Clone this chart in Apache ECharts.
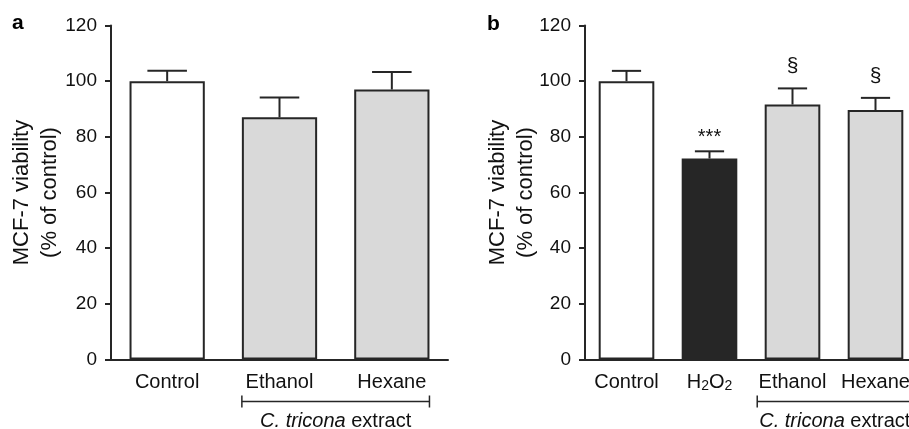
<!DOCTYPE html>
<html><head><meta charset="utf-8">
<script src="https://cdn.jsdelivr.net/npm/echarts@6/dist/echarts.min.js"></script>
<style>html,body{margin:0;padding:0;background:#fff;overflow:hidden}#c{width:918px;height:429px}</style>
</head><body><div id="c"></div>
<script>
// ---- data ----
const catsA = ['Control', 'Ethanol', 'Hexane'];
const meanA = [100, 87, 97];
const errA = [3.7, 7.1, 6.3];
const catsB = ['Control', 'H2O2', 'Ethanol', 'Hexane'];
const meanB = [100, 72.2, 91.6, 89.6];
const errB = [3.7, 2.6, 5.8, 4.4];
const marksB = ['', '***', '§', '§'];
const yTicks = [0, 20, 40, 60, 80, 100, 120];
const extractGroup = ['Ethanol', 'Hexane'];
const yTitle = 'MCF-7 viability\n(% of control)';
const groupTitle = ['C. tricona', ' extract'];

// ---- styles ----
const FONT = "'Liberation Sans', Arial, sans-serif";
const INK = '#262626';
const TXT = '#111';
const fillOf = { 'Control': '#ffffff', 'H2O2': '#262626', 'Ethanol': '#d9d9d9', 'Hexane': '#d9d9d9' };

const chart = echarts.init(document.getElementById('c'), null, { renderer: 'canvas' });

function xAxis(gi, cats) {
  return {
    type: 'category', gridIndex: gi, data: cats,
    axisLine: { lineStyle: { color: INK, width: 2 } },
    axisTick: { alignWithLabel: true, length: 7, lineStyle: { color: INK, width: 2 } },
    axisLabel: {
      interval: 0, margin: 13, color: TXT, fontFamily: FONT, fontSize: 20,
      formatter: v => v === 'H2O2' ? '{n|H}{s|2}{n|O}{s|2}' : '{n|' + v + '}',
      rich: {
        n: { fontFamily: FONT, fontSize: 20, lineHeight: 20, color: TXT },
        s: { fontFamily: FONT, fontSize: 14, lineHeight: 12, padding: [8, 0, 0, 0], color: TXT }
      }
    }
  };
}
function yAxis(gi, gap) {
  return {
    type: 'value', gridIndex: gi,
    min: yTicks[0], max: yTicks[yTicks.length - 1], interval: yTicks[1] - yTicks[0],
    name: yTitle, nameLocation: 'middle', nameGap: gap, nameMoveOverlap: false,
    nameTextStyle: { fontFamily: FONT, fontSize: 22, lineHeight: 28, color: TXT },
    axisLine: { show: true, lineStyle: { color: INK, width: 2 } },
    axisTick: { show: true, length: 6, lineStyle: { color: INK, width: 2 } },
    axisLabel: { margin: 14, color: TXT, fontFamily: FONT, fontSize: 19 },
    splitLine: { show: false }
  };
}
function barSeries(i, cats, means) {
  return {
    type: 'bar', xAxisIndex: i, yAxisIndex: i, barCategoryGap: '33%',
    data: means.map((m, k) => ({ value: m, itemStyle: { color: fillOf[cats[k]] } })),
    itemStyle: { borderColor: INK, borderWidth: 2 },
    silent: true, animation: false
  };
}
function errSeries(i, means, errs) {
  return {
    type: 'custom', xAxisIndex: i, yAxisIndex: i, clip: false, animation: false, silent: true, z: 3,
    data: means.map((m, k) => [k, m, errs[k]]),
    renderItem: (params, api) => {
      const k = api.value(0), m = api.value(1), e = api.value(2);
      const b = api.coord([k, m]), t = api.coord([k, m + e]);
      const half = api.size([1, 0])[0] * 0.176;
      const st = { stroke: INK, lineWidth: 2 };
      return { type: 'group', children: [
        { type: 'line', shape: { x1: b[0], y1: b[1], x2: t[0], y2: t[1] }, style: st },
        { type: 'line', shape: { x1: t[0] - half, y1: t[1], x2: t[0] + half, y2: t[1] }, style: st }
      ] };
    }
  };
}
function markSeries(i, means, errs, marks) {
  return {
    type: 'custom', xAxisIndex: i, yAxisIndex: i, clip: false, animation: false, silent: true, z: 4,
    data: means.map((m, k) => [k, m + errs[k]]),
    renderItem: (params, api) => {
      const k = api.value(0);
      const txt = marks[k];
      if (!txt) return null;
      const p = api.coord([k, api.value(1)]);
      const star = txt.indexOf('*') >= 0;
      return { type: 'text', style: { text: txt, x: p[0], y: p[1] - (star ? 14 : 22), align: 'center', verticalAlign: 'middle',
        fontFamily: FONT, fontSize: star ? 20 : 21, fill: TXT } };
    }
  };
}
function bracketSeries(i, cats, startFrac, centered) {
  const i0 = cats.indexOf(extractGroup[0]), i1 = cats.indexOf(extractGroup[extractGroup.length - 1]);
  return {
    type: 'custom', xAxisIndex: i, yAxisIndex: i, clip: false, animation: false, silent: true, z: 4,
    data: [[i0, 0]],
    renderItem: (params, api) => {
      const band = api.size([1, 0])[0];
      const a = api.coord([i0, 0]), b = api.coord([i1, 0]);
      const x1 = a[0] - band * startFrac, x2 = b[0] + band * startFrac;
      const y = a[1] + 42;
      const st = { stroke: INK, lineWidth: 1.5 };
      return { type: 'group', children: [
        { type: 'line', shape: { x1: x1, y1: y, x2: x2, y2: y }, style: st },
        { type: 'line', shape: { x1: x1, y1: y - 6, x2: x1, y2: y + 6 }, style: st },
        { type: 'line', shape: { x1: x2, y1: y - 6, x2: x2, y2: y + 6 }, style: st },
        { type: 'text', style: {
          text: '{i|' + groupTitle[0] + '}{n|' + groupTitle[1] + '}',
          x: centered ? (x1 + x2) / 2 : x1 + 2, y: a[1] + 62,
          align: centered ? 'center' : 'left', verticalAlign: 'middle',
          rich: { i: { fontFamily: FONT, fontSize: 20, fontStyle: 'italic', fill: TXT },
                  n: { fontFamily: FONT, fontSize: 20, fill: TXT } } } }
      ] };
    }
  };
}

chart.setOption({
  animation: false,
  backgroundColor: '#ffffff',
  grid: [
    { left: 111, top: 25.5, width: 337, height: 334 },
    { left: 585, top: 25.5, width: 332, height: 334 }
  ],
  xAxis: [xAxis(0, catsA), xAxis(1, catsB)],
  yAxis: [yAxis(0, 47), yAxis(1, 45)],
  graphic: [
    { type: 'text', left: 12, top: 13, style: { text: 'a', fontFamily: FONT, fontSize: 21, fontWeight: 'bold', fill: '#000' } },
    { type: 'text', left: 487, top: 14, style: { text: 'b', fontFamily: FONT, fontSize: 21, fontWeight: 'bold', fill: '#000' } }
  ],
  series: [
    barSeries(0, catsA, meanA), errSeries(0, meanA, errA), bracketSeries(0, catsA, 0.335, true),
    barSeries(1, catsB, meanB), errSeries(1, meanB, errB), markSeries(1, meanB, errB, marksB),
    bracketSeries(1, catsB, 0.425, false)
  ]
});
</script></body></html>
